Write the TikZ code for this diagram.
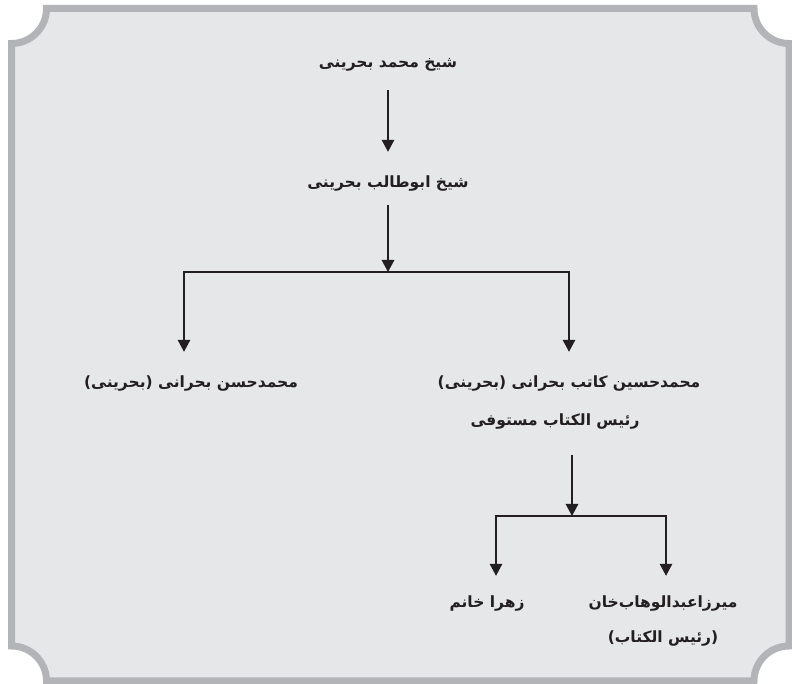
\documentclass[tikz,border=0pt]{standalone}
\usepackage{fontspec}
\newfontfamily\arabicfont[Script=Arabic]{DejaVu Sans}
\TeXXeTstate=1
\usetikzlibrary{arrows.meta}
\definecolor{framegrey}{RGB}{178,180,183}
\definecolor{paper}{RGB}{230,231,232}
\definecolor{ink}{RGB}{35,31,32}
\newcommand{\fatext}[1]{\arabicfont\bfseries\beginR #1\endR}

\begin{document}
\begin{tikzpicture}
    [x=1pt, y=1pt,
    arr/.style={ink, line width=1.5pt, -{Triangle[length=12pt,width=12.5pt]}},
    bar/.style={ink, line width=1.5pt, line cap=rect},
    person/.style={font=\fontsize{15.5}{18}\selectfont, text=ink, inner sep=0pt, text height=10pt, text depth=4pt},
    node distance=120pt]
    \useasboundingbox (0,0) rectangle (792,684);
    %% frame with cut corners
    \fill[white] (0,0) rectangle (792,684);
    \draw[framegrey, line width=7pt, fill=paper]
        (46.5,675.5) -- (754,675.5) arc (180:270:35)
        -- (789,38) arc (90:180:35)
        -- (46.5,3) arc (0:90:35)
        -- (11.5,640.5) arc (270:360:35) -- cycle;

    %% first two generations
    \node[person] (A) at (388,619) {\fatext{شیخ محمد بحرینی}};
    \node[person, below of = A] (B) {\fatext{شیخ ابوطالب بحرینی}};
    \coordinate (J1) at (388,412);
    \coordinate (J1l) at (184,412);
    \coordinate (J1r) at (569,412);

    \draw[arr, shorten <=18pt, shorten >=26pt] (A) -- (B);
    \draw[arr, shorten <=13pt] (B) -- (J1);
    \draw[bar] (J1l) -- (J1r);

    %% sons
    \node[person] (L) at (191,299) {\fatext{محمدحسن بحرانی (بحرینی)}};
    \node[person] (R1) at (569,299) {\fatext{محمدحسین کاتب بحرانی (بحرینی)}};
    \node[person, below of = R1, node distance=38pt, xshift=-14pt] (R2) {\fatext{رئیس الکتاب مستوفی}};

    \draw[arr, shorten >=26pt] (J1l) -- (J1l |- L.north);
    \draw[arr, shorten >=26pt] (J1r) -- (J1r |- R1.north);

    %% grandchildren
    \coordinate (J2) at (572,168);
    \coordinate (J2l) at (496,168);
    \coordinate (J2r) at (666,168);
    \node[person] (Z) at (487,79) {\fatext{زهرا خانم}};
    \node[person] (M1) at (663,79) {\fatext{میرزاعبدالوهاب‌خان}};
    \node[person, below of = M1, node distance=35pt] (M2) {\fatext{(رئیس الکتاب)}};

    \draw[arr, shorten <=25pt] (J2 |- R2.south) -- (J2);
    \draw[bar] (J2l) -- (J2r);
    \draw[arr, shorten >=22pt] (J2l) -- (J2l |- Z.north);
    \draw[arr, shorten >=22pt] (J2r) -- (J2r |- M1.north);
\end{tikzpicture}
\end{document}
